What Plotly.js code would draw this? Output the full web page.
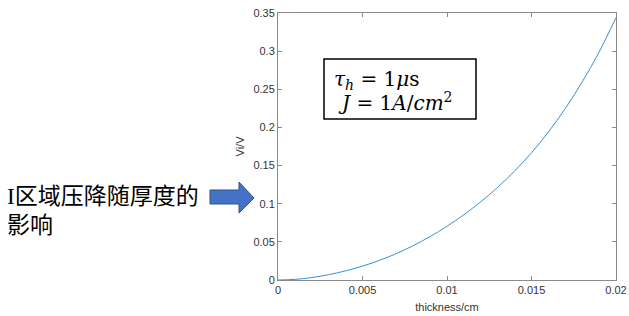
<!DOCTYPE html>
<html>
<head>
<meta charset="utf-8">
<script src="https://cdn.plot.ly/plotly-3.0.1.min.js"></script>
<style>html,body{margin:0;padding:0;background:#fff;}#chart{width:629px;height:316px;}</style>
</head>
<body>
<div id="chart"></div>
<script>
// Data
var thickness = [0, 0.001, 0.002, 0.003, 0.004, 0.005, 0.006, 0.007, 0.008, 0.009, 0.010,
                 0.011, 0.012, 0.013, 0.014, 0.015, 0.016, 0.017, 0.018, 0.019, 0.020];
var viVolts = [0, 0.0008, 0.0032, 0.0070, 0.0120, 0.0182, 0.0257, 0.0346, 0.0450, 0.0569, 0.0704,
               0.0856, 0.1026, 0.1216, 0.1428, 0.1668, 0.1940, 0.2248, 0.2596, 0.2988, 0.3440];
var xTickVals = [0, 0.005, 0.01, 0.015, 0.02];
var xTickText = ['0', '0.005', '0.01', '0.015', '0.02'];
var yTickVals = [0, 0.05, 0.1, 0.15, 0.2, 0.25, 0.3, 0.35];
var yTickText = ['0', '0.05', '0.1', '0.15', '0.2', '0.25', '0.3', '0.35'];
var xTitle = 'thickness/cm';
var yTitle = 'Vi/V';
var boxLine1 = '<i>τ<sub>h</sub></i> = 1<i>μ</i>s';
var boxLine2 = '<i>J</i> = 1<i>A</i>/<i>cm</i><sup>2</sup>';
var sideLine1 = 'I区域压降随厚度的';
var sideLine2 = '影响';

var tickFont = {family: 'Liberation Sans, Arial, sans-serif', size: 11, color: '#333333'};

var trace = {
  x: thickness, y: viVolts, type: 'scatter', mode: 'lines',
  line: {color: '#3a8fd6', width: 1, shape: 'spline', smoothing: 1},
  hoverinfo: 'none'
};

var axisCommon = {
  showline: true, linecolor: '#8a8a8a', linewidth: 1, mirror: 'ticks',
  ticks: 'inside', ticklen: 4, tickcolor: '#8a8a8a', tickwidth: 1,
  showgrid: false, zeroline: false, tickfont: tickFont, fixedrange: true
};

var layout = {
  width: 629, height: 316,
  margin: {l: 278, r: 13, t: 13, b: 36},
  paper_bgcolor: '#ffffff', plot_bgcolor: '#ffffff',
  showlegend: false,
  xaxis: Object.assign({}, axisCommon, {
    range: [0, 0.02], tickmode: 'array', tickvals: xTickVals, ticktext: xTickText,
    title: {text: xTitle, font: tickFont, standoff: 8}
  }),
  yaxis: Object.assign({}, axisCommon, {
    range: [0, 0.35], tickmode: 'array', tickvals: yTickVals, ticktext: yTickText,
    title: {text: yTitle, font: tickFont, standoff: 6}
  }),
  shapes: [
    {type: 'rect', xref: 'paper', yref: 'paper', x0: 0.1361, x1: 0.5858, y0: 0.603, y1: 0.8277,
     line: {color: '#000000', width: 1.5}, fillcolor: 'rgba(0,0,0,0)'},
    {type: 'path', xref: 'paper', yref: 'paper',
     path: 'M -0.2012 0.3371 L -0.1154 0.3371 L -0.1154 0.3670 L -0.0710 0.3071 L -0.1154 0.2509 L -0.1154 0.2846 L -0.2012 0.2846 Z',
     fillcolor: '#4472c4', line: {color: '#2f528f', width: 1}}
  ],
  annotations: [
    {xref: 'paper', yref: 'paper', x: 0.160, y: 0.748, xanchor: 'left', yanchor: 'middle',
     text: boxLine1, showarrow: false,
     font: {family: 'DejaVu Serif, Liberation Serif, serif', size: 20, color: '#000000'}},
    {xref: 'paper', yref: 'paper', x: 0.172, y: 0.665, xanchor: 'left', yanchor: 'middle',
     text: boxLine2, showarrow: false,
     font: {family: 'DejaVu Serif, Liberation Serif, serif', size: 20, color: '#000000'}},
    {xref: 'paper', yref: 'paper', x: -0.8077, y: 0.311, xanchor: 'left', yanchor: 'middle',
     text: sideLine1, showarrow: false,
     font: {family: 'Liberation Serif, Noto Sans CJK SC, serif', size: 23, color: '#000000'}},
    {xref: 'paper', yref: 'paper', x: -0.8077, y: 0.203, xanchor: 'left', yanchor: 'middle',
     text: sideLine2, showarrow: false,
     font: {family: 'Liberation Serif, Noto Sans CJK SC, serif', size: 23, color: '#000000'}}
  ]
};

Plotly.newPlot('chart', [trace], layout, {displayModeBar: false, staticPlot: true});
</script>
</body>
</html>
